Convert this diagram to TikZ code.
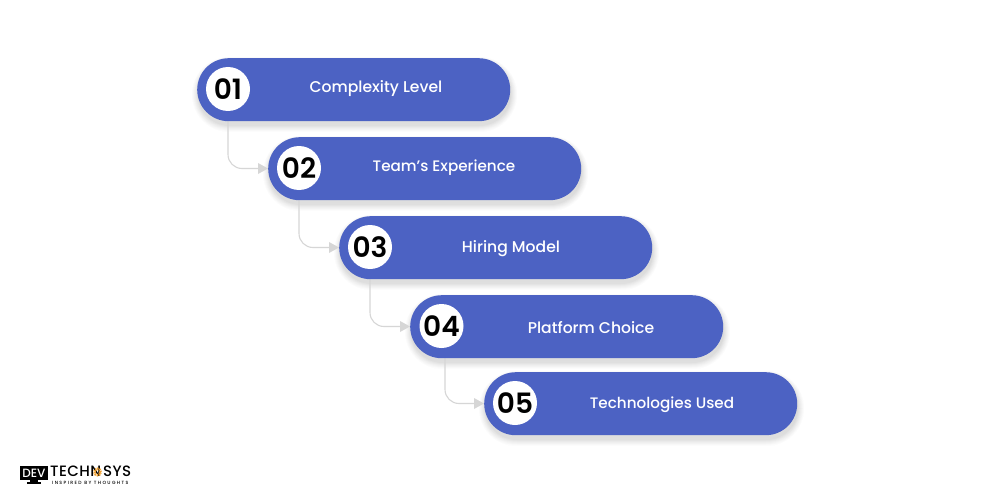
\documentclass[tikz,border=0pt]{standalone}
\usepackage{fontspec}
\setmainfont{Poppins}[BoldFont={Poppins SemiBold}]
\newfontfamily\medfont{Poppins Medium}
\newfontfamily\tagfont{Poppins Medium}[LetterSpace=30]
\newfontfamily\logofont{Poppins Medium}[LetterSpace=3]
\usetikzlibrary{arrows.meta}
\definecolor{pill}{HTML}{4C62C3}
\definecolor{shade}{HTML}{8F8CF0}
\definecolor{link}{HTML}{D6D6D6}
\definecolor{logoor}{HTML}{F0A030}
\tikzset{
  x=1pt,y=-1pt,
  pillbox/.style={fill=pill,rounded corners=31.5pt,minimum width=313pt,minimum height=63pt,inner sep=0pt,anchor=north west},
  numdisc/.style={circle,fill=white,minimum size=44pt,inner sep=0pt,text=black,font=\fontsize{28}{28}\selectfont\bfseries},
  pilltext/.style={text=white,font=\fontsize{15.6}{18}\medfont\selectfont,inner sep=0pt,anchor=center},
  pilltextb/.style={text=white,font=\fontsize{15.2}{18}\medfont\selectfont,inner sep=0pt,anchor=center},
  linkline/.style={draw=link,line width=1.1pt,rounded corners=14pt},
  linktip/.style={fill=link,draw=none},
  logotext/.style={inner sep=0pt,text=black,font=\fontsize{15}{15}\logofont\selectfont},
}
\newcommand{\softshadow}[2]{%
  \foreach \g/\o in {6/0.012,5/0.012,4/0.015,3/0.015,2/0.02,1/0.02,0/0.025}{
    \fill[shade,opacity=\o,rounded corners={31.5pt+\g pt}]
      (#1-\g+1,#2-\g+5) rectangle (#1+313+\g+1,#2+63+\g+5);
  }%
}
\newcommand{\tipat}[2]{\fill[linktip] (#1,#2) -- (#1-10,#2-5.5) -- (#1-10,#2+5.5) -- cycle;}
\begin{document}
\begin{tikzpicture}
\useasboundingbox[fill=white] (0,0) rectangle (1000,500);
\softshadow{197}{58}\softshadow{268}{137}\softshadow{339}{216}\softshadow{410}{295}\softshadow{484}{372}
\coordinate (s1) at (228,121);
\coordinate (s2) at (299,200);
\coordinate (s3) at (370,279);
\coordinate (s4) at (445,358);
\coordinate (e2) at (260,168.5);
\coordinate (e3) at (331,247.5);
\coordinate (e4) at (402,326.5);
\coordinate (e5) at (476,403.5);
\draw[linkline] (s1) |- (e2);
\draw[linkline] (s2) |- (e3);
\draw[linkline] (s3) |- (e4);
\draw[linkline] (s4) |- (e5);
\tipat{268}{168.5}\tipat{339}{247.5}\tipat{410}{326.5}\tipat{484}{403.5}
\node[pillbox] (p1) at (197,58) {};
\node[pillbox] (p2) at (268,137) {};
\node[pillbox] (p3) at (339,216) {};
\node[pillbox] (p4) at (410,295) {};
\node[pillbox] (p5) at (484,372) {};
\node[numdisc] (n1) at (228,89) {01};
\node[numdisc] (n2) at (299,168) {02};
\node[numdisc] (n3) at (370,247) {03};
\node[numdisc] (n4) at (441.5,326) {04};
\node[numdisc] (n5) at (515,403) {05};
\node[pilltext] (t1) at (376,88.5) {Complexity Level};
\node[pilltextb] (t2) at (444,167.5) {Team’s Experience};
\node[pilltext] (t3) at (511,249) {Hiring Model};
\node[pilltext] (t4) at (591,327.5) {Platform Choice};
\node[pilltextb] (t5) at (662,404.5) {Technologies Used};
% logo
\fill[black] (20,466) rectangle (48,480);
\fill[black] (30,480) rectangle (38,482);
\fill[black] (27,482) rectangle (41,483.5);
\node[inner sep=0pt,text=white,font=\fontsize{12}{12}\medfont\selectfont] (ld) at (34,473) {DEV};
\node[logotext,anchor=west] (l1) at (50,471) {TECHN};
\draw[logoor,line width=2.5pt,dash pattern=on 1.2pt off 0.8pt] (97.5,472) circle (3.2pt);
\node[logotext,anchor=west] (l2) at (103,471) {SYS};
\node[inner sep=0pt,anchor=west,text=black,font=\fontsize{4.6}{5}\tagfont\selectfont] (l3) at (52,483) {INSPIRED BY THOUGHTS};
\end{tikzpicture}
\end{document}
